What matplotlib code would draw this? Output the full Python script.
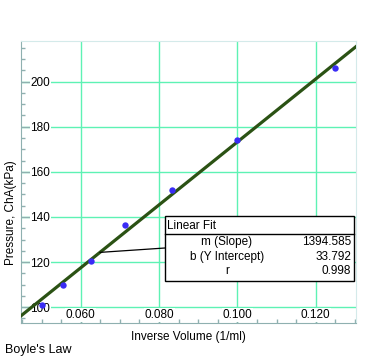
import matplotlib.pyplot as plt
from matplotlib.patches import Rectangle
from matplotlib.lines import Line2D
import numpy as np

plt.rcParams['font.family'] = ['Liberation Sans', 'DejaVu Sans']

# data
inv_volume = [1/20, 1/18, 1/16, 1/14, 1/12, 1/10, 1/8]
pressure = [100.8, 109.8, 120.3, 136.6, 151.9, 174.0, 205.9]

slope = 1394.585
intercept = 33.792
r_value = 0.998

x_ticks = [0.060, 0.080, 0.100, 0.120]
y_ticks = [100, 120, 140, 160, 180, 200]
x_tick_labels = ["0.060", "0.080", "0.100", "0.120"]
y_tick_labels = ["100", "120", "140", "160", "180", "200"]

fig_w, fig_h = 378, 360
fig = plt.figure(figsize=(3.78, 3.6), dpi=100)
ax = fig.add_axes([21/fig_w, 1 - 323/fig_h, 335/fig_w, 282/fig_h])

xmin, xmax = 0.04475, 0.1303
ymin, ymax = 93.0, 218.0
ax.set_xlim(xmin, xmax)
ax.set_ylim(ymin, ymax)

grid_col = '#5ef2b4'
for v in x_ticks:
    ax.axvline(v, color=grid_col, lw=1.0, zorder=0.2)
for v in y_ticks:
    ax.axhline(v, color=grid_col, lw=1.0, zorder=0.2)
ax.set_axisbelow(True)

# fit line
xf = np.array([xmin, xmax])
ax.plot(xf, slope*xf + intercept, color='#2b5214', lw=2.3, zorder=3, clip_on=True)

# data points
ax.plot(inv_volume, pressure, 'o', color='#3a2cf5', ms=4.6, mec='none', zorder=4)

ax.set_xticks(x_ticks)
ax.set_xticklabels(x_tick_labels)
ax.set_yticks(y_ticks)
ax.set_yticklabels(y_tick_labels)
ax.set_xticks(np.arange(0.045, 0.131, 0.005), minor=True)
ax.set_yticks(np.arange(95, 216, 5), minor=True)

spine_col = '#8fb0b0'
ax.tick_params(axis='y', which='major', direction='in', length=6.5, width=1,
               color=spine_col, pad=-21, labelsize=8.5)
ax.tick_params(axis='x', which='major', direction='in', length=6.5, width=1,
               color=spine_col, pad=-10, labelsize=8.5)
ax.tick_params(which='minor', direction='in', length=3, width=1, color=spine_col)
for lbl in ax.get_yticklabels():
    lbl.set_bbox(dict(facecolor='white', edgecolor='none', pad=0.5))
    lbl.set_horizontalalignment('right')
for lbl in ax.get_xticklabels():
    lbl.set_bbox(dict(facecolor='white', edgecolor='none', pad=0.5))

ax.spines['left'].set_color(spine_col)
ax.spines['bottom'].set_color(spine_col)
ax.spines['top'].set_color('#d4eaea')
ax.spines['right'].set_color('#d4eaea')

# axis labels (figure pixel positions)
def fx(px):
    return px / fig_w

def fy(py):
    return 1 - py / fig_h

fig.text(fx(188.5), fy(337), "Inverse Volume (1/ml)", ha='center', va='center', fontsize=8.5)
fig.text(fx(11.5), fy(213), "Pressure, ChA(kPa)", ha='center', va='center',
         rotation=90, fontsize=8.5)
fig.text(fx(5), fy(350), "Boyle's Law", ha='left', va='center', fontsize=9)

# linear fit box
bx0, by0, bx1, by1 = 165, 216, 354, 281
x_lead = 0.0649
ax.annotate("", xy=(x_lead, slope*x_lead + intercept), xycoords='data',
            xytext=(fx(bx0), fy(248)), textcoords='figure fraction',
            arrowprops=dict(arrowstyle='-', color='black', lw=0.9,
                            shrinkA=0, shrinkB=0), zorder=5)
fig.patches.append(Rectangle((fx(bx0), fy(by1)), fx(bx1) - fx(bx0), fy(by0) - fy(by1),
                             transform=fig.transFigure, facecolor='white',
                             edgecolor='black', lw=1, zorder=6))
fig.lines.append(Line2D([fx(bx0), fx(bx1)], [fy(234), fy(234)], transform=fig.transFigure,
                        color='black', lw=1, zorder=7))
fig.text(fx(167), fy(226), "Linear Fit", ha='left', va='center', fontsize=8.5, zorder=8)
rows = [("m (Slope)", "%.3f" % slope), ("b (Y Intercept)", "%.3f" % intercept),
        ("r", "%.3f" % r_value)]
row_y = [242, 257, 271.5]
for (name, val), yy in zip(rows, row_y):
    fig.text(fx(227), fy(yy), name, ha='center', va='center', fontsize=8.5, zorder=8)
    fig.text(fx(351), fy(yy), val, ha='right', va='center', fontsize=8.5, zorder=8)

fig.savefig("out.png", dpi=100)
